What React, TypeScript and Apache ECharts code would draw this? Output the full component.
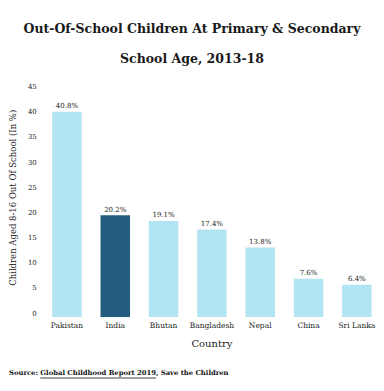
import React, { useEffect, useRef } from "react";
import * as echarts from "echarts";

const titleLines = ["Out-Of-School Children At Primary & Secondary", "School Age, 2013-18"];
const countries = ["Pakistan", "India", "Bhutan", "Bangladesh", "Nepal", "China", "Sri Lanka"];
const values = [40.8, 20.2, 19.1, 17.4, 13.8, 7.6, 6.4];
const valueLabels = ["40.8%", "20.2%", "19.1%", "17.4%", "13.8%", "7.6%", "6.4%"];
const highlight = "India";
const yTicks = [0, 5, 10, 15, 20, 25, 30, 35, 40, 45];
const yAxisTitle = "Children Aged 8-16 Out Of School (In %)";
const xAxisTitle = "Country";
const sourceParts = ["Source: ", "Global Childhood Report 2019", ", Save the Children"];

const SERIF = "'DejaVu Serif', serif";
const LIGHT = "#b3e4f1";
const DARK = "#245c80";

function measure(text: string, font: string): number {
  const c = document.createElement("canvas");
  const ctx = c.getContext("2d");
  if (!ctx) return text.length * 5;
  ctx.font = font;
  return ctx.measureText(text).width;
}

export default function App() {
  const ref = useRef<HTMLDivElement>(null);
  useEffect(() => {
    if (!ref.current) return;
    const chart = echarts.init(ref.current, null, { renderer: "svg" });
    const srcSize = 6.8;
    const srcFont = `bold ${srcSize}px 'DejaVu Serif'`;
    let sx = 9;
    const srcY = 373;
    const srcEls: any[] = [];
    sourceParts.forEach((p, i) => {
      const w = measure(p, srcFont);
      srcEls.push({
        type: "text",
        x: sx,
        y: srcY,
        style: {
          text: p,
          font: srcFont,
          fill: "#111",
          textVerticalAlign: "middle",
        },
      });
      if (i === 1) {
        srcEls.push({
          type: "line",
          shape: { x1: sx, y1: srcY + 5, x2: sx + w, y2: srcY + 5 },
          style: { stroke: "#111", lineWidth: 0.8 },
        });
      }
      sx += w;
    });

    chart.setOption({
      animation: false,
      title: {
        text: titleLines.join("\n"),
        left: "center",
        top: 8,
        textStyle: {
          fontFamily: SERIF,
          fontWeight: "bold",
          fontSize: 12.5,
          lineHeight: 30,
          color: "#1a1a1a",
        },
      },
      grid: { left: 36, right: 3, top: 90.6, bottom: 74, containLabel: false },
      xAxis: {
        type: "category",
        data: countries,
        name: xAxisTitle,
        nameLocation: "middle",
        nameGap: 21,
        nameTextStyle: { fontFamily: SERIF, fontSize: 10, color: "#222" },
        axisLine: { show: false },
        axisTick: { show: false },
        axisLabel: { fontFamily: SERIF, fontSize: 7.5, color: "#222", margin: 4, interval: 0 },
      },
      yAxis: {
        type: "value",
        min: 0,
        max: 45,
        interval: 5,
        name: yAxisTitle,
        nameLocation: "middle",
        nameGap: 21,
        nameRotate: 90,
        nameTextStyle: { fontFamily: SERIF, fontSize: 8.5, color: "#222", padding: [0, 0, 0, 12] },
        axisLine: { show: false },
        axisTick: { show: false },
        splitLine: { show: false },
        axisLabel: {
          fontFamily: SERIF,
          fontSize: 7,
          color: "#222",
          margin: 6,
          verticalAlign: "bottom",
          formatter: (v: number) => (yTicks.includes(v) ? String(v) : ""),
        },
      },
      series: [
        {
          type: "bar",
          data: values.map((v, i) => ({
            value: v,
            itemStyle: { color: countries[i] === highlight ? DARK : LIGHT },
          })),
          barWidth: "61%",
          label: {
            show: true,
            position: "top",
            distance: 2,
            fontFamily: SERIF,
            fontSize: 7,
            color: "#222",
            formatter: (p: any) => valueLabels[p.dataIndex],
          },
        },
      ],
      graphic: srcEls,
    });
    return () => chart.dispose();
  }, []);
  return (
    <div
      ref={ref}
      style={{ position: "fixed", left: 0, top: 0, width: 384, height: 391, background: "#fff" }}
    />
  );
}
